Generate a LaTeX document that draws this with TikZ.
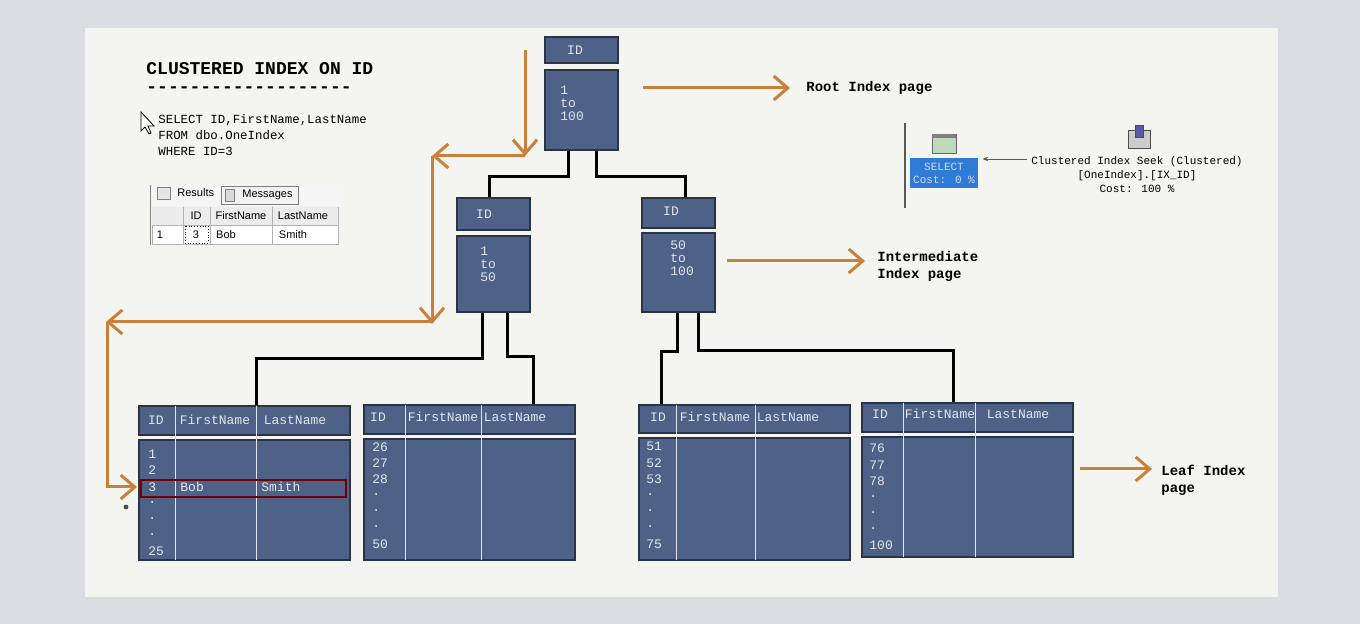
\documentclass[tikz,border=0pt]{standalone}
\usepackage{fontspec}
\setmainfont{Liberation Sans}
\newfontfamily\mono{Liberation Mono}
\usetikzlibrary{positioning, arrows.meta}
\definecolor{pagebg}{HTML}{DCDDE3}
\definecolor{panel}{HTML}{F4F4F0}
\definecolor{slate}{HTML}{4E6187}
\definecolor{slateline}{HTML}{2B3447}
\definecolor{paletxt}{HTML}{E2E6EE}
\definecolor{flowc}{HTML}{C8803A}
\definecolor{selblue}{HTML}{2F7BD6}
\tikzset{
  page/.style={draw=slateline, fill=slate, line width=1.2pt, inner sep=0pt},
  ptxt/.style={font=\mono\fontsize{6.5}{7}\selectfont, text=paletxt, inner sep=0pt},
  col/.style={draw=paletxt, line width=0.4pt},
  link/.style={line width=1.5pt, black},
  flow/.style={line width=1.5pt, flowc, -{Straight Barb[length=7pt,width=12pt,line width=1.5pt]}},
  lbl/.style={font=\mono\bfseries\fontsize{7}{8.5}\selectfont, align=left, anchor=west, inner sep=0pt}
}
\begin{document}
\begin{tikzpicture}[x=0.5pt, y=-0.5pt]
  \fill[pagebg] (0,0) rectangle (1360,624);
  \fill[panel] (85,28) rectangle (1278,597);
  \useasboundingbox (0,0) rectangle (1360,624);

  % title and query
  \node[lbl, font=\mono\bfseries\fontsize{9}{10}\selectfont] (title) at (146,69) {CLUSTERED INDEX ON ID};
  \node[lbl, font=\mono\bfseries\fontsize{9}{10}\selectfont] (dash) at (146,90) {-------------------};
  \node[font=\mono\fontsize{6.2}{8}\selectfont, align=left, anchor=north west, inner sep=0pt] (query) at (158,114)
    {SELECT ID,FirstName,LastName\\FROM dbo.OneIndex\\WHERE ID=3};
  \draw[fill=white, line width=0.4pt] (141,112) -- (141,131) -- (145,127) -- (149,134) -- (151,133) -- (148,126) -- (154,126) -- cycle;

  % results grid
  \fill[white!92!gray] (148,183) rectangle (345,206);
  \draw[gray] (150,185) -- (150,245);
  \draw[gray, fill=gray!20] (157,187) rectangle (170,199);
  \node[anchor=west, font=\fontsize{5.5}{6}\selectfont, inner sep=0pt] (res) at (177,193) {Results};
  \node[draw=gray, fill=white!90!gray, font=\fontsize{5.5}{6}\selectfont, minimum width=38.5pt, minimum height=9pt, inner sep=0pt] (msg) at (259.5,195) {\hspace{8pt}Messages};
  \draw[gray, fill=gray!30] (225,189) rectangle (234,201);
  \fill[white] (152,207) rectangle (338,244);
  \draw[gray!60] (152,207) rectangle (338,244) (152,225) -- (338,225)
    (183,207) -- (183,244) (210,207) -- (210,244) (272,207) -- (272,244);
  \fill[gray!15] (152,207) rectangle (338,225);
  \draw[gray!60] (183,207) -- (183,225) (210,207) -- (210,225) (272,207) -- (272,225);
  \foreach \x/\t in {196/ID, 241/FirstName, 303/LastName}
    \node[font=\fontsize{5.5}{6}\selectfont, inner sep=0pt] at (\x,216) {\t};
  \foreach \x/\t in {160/1, 196/3, 226/Bob, 293/Smith}
    \node[font=\fontsize{5.5}{6}\selectfont, inner sep=0pt] at (\x,235) {\t};
  \draw[densely dotted] (185,226) rectangle (208,243);

  % root page
  \node[page, minimum width=36.5pt, minimum height=13pt] (rootH) at (581.5,50) {};
  \node[ptxt] at (575,50) {ID};
  \node[page, minimum width=36.5pt, minimum height=40pt] (rootB) at (581.5,110) {};
  \node[ptxt, align=left, anchor=north west] at (560,86) {1\\[-0.5pt]to\\[-0.5pt]100};

  % intermediate pages
  \node[page, minimum width=36.5pt, minimum height=16pt] (midLH) at (493.5,214) {};
  \node[ptxt] at (484,214) {ID};
  \node[page, minimum width=36.5pt, minimum height=38pt] (midLB) at (493.5,274) {};
  \node[ptxt, align=left, anchor=north west] at (480,247) {1\\[-0.5pt]to\\[-0.5pt]50};
  \node[page, minimum width=36.5pt, minimum height=15pt] (midRH) at (678.5,213) {};
  \node[ptxt] at (671,211) {ID};
  \node[page, minimum width=36.5pt, minimum height=39.5pt] (midRB) at (678.5,272.5) {};
  \node[ptxt, align=left, anchor=north west] at (670,240) {50\\[-0.5pt]to\\[-0.5pt]100};

  % leaf pages
  \node[page, minimum width=105.5pt, minimum height=14.5pt] (leafAH) at (244.5,420.5) {};
  \node[page, minimum width=105.5pt, minimum height=60pt] (leafAB) at (244.5,500) {};
  \draw[col] (175,406) -- (175,560) (256,406) -- (256,560);
  \foreach \x/\t in {156/ID, 215/FirstName, 295/LastName} \node[ptxt] at (\x,420) {\t};
  \foreach \y/\t in {454/1, 470/2, 487/3, 503/., 519/., 535/., 551/25} \node[ptxt, anchor=west] at (148,\y) {\t};
  \node[ptxt, anchor=west] at (180,487) {Bob};
  \node[ptxt, anchor=west] at (261,487) {Smith};
  \draw[red!45!black, line width=1pt] (141,480) rectangle (346,497);

  \node[page, minimum width=105.5pt, minimum height=14.5pt] (leafBH) at (469.5,419.5) {};
  \node[page, minimum width=105.5pt, minimum height=60.5pt] (leafBB) at (469.5,499.5) {};
  \draw[col] (405,405) -- (405,560) (481,405) -- (481,560);
  \foreach \x/\t in {378/ID, 443/FirstName, 515/LastName} \node[ptxt] at (\x,417) {\t};
  \foreach \y/\t in {447/26, 463/27, 479/28, 495/., 511/., 527/., 544/50} \node[ptxt, anchor=west] at (372,\y) {\t};

  \node[page, minimum width=105.5pt, minimum height=14pt] (leafCH) at (744.5,419) {};
  \node[page, minimum width=105.5pt, minimum height=61pt] (leafCB) at (744.5,499) {};
  \draw[col] (676,405) -- (676,560) (755,405) -- (755,560);
  \foreach \x/\t in {658/ID, 715/FirstName, 788/LastName} \node[ptxt] at (\x,417) {\t};
  \foreach \y/\t in {446/51, 463/52, 479/53, 495/., 511/., 527/., 544/75} \node[ptxt, anchor=west] at (646,\y) {\t};

  \node[page, minimum width=105.5pt, minimum height=14.5pt] (leafDH) at (967.5,417.5) {};
  \node[page, minimum width=105.5pt, minimum height=60pt] (leafDB) at (967.5,497) {};
  \draw[col] (903,403) -- (903,557) (975,403) -- (975,557);
  \foreach \x/\t in {880/ID, 940/FirstName, 1018/LastName} \node[ptxt] at (\x,414) {\t};
  \foreach \y/\t in {448/76, 465/77, 481/78, 497/., 513/., 529/., 545/100} \node[ptxt, anchor=west] at (869,\y) {\t};

  % page links
  \draw[link] ([xshift=-6.75pt]rootB.south) -- ++(0,25) -| ([xshift=-2pt]midLH.north);
  \draw[link] ([xshift=7.25pt]rootB.south) -- ++(0,25) -| ([xshift=3.25pt]midRH.north);
  \draw[link] ([xshift=-5.75pt]midLB.south) -- ++(0,45) -| ([xshift=5.75pt]leafAH.north);
  \draw[link] ([xshift=6.75pt]midLB.south) -- ++(0,43) -| ([xshift=31.75pt]leafBH.north);
  \draw[link] ([xshift=-0.75pt]midRB.south) -- ++(0,38) -| ([xshift=-41.75pt]leafCH.north);
  \draw[link] ([xshift=9.75pt]midRB.south) -- ++(0,37) -| ([xshift=-7.25pt]leafDH.north);

  % search path
  \coordinate (s0) at (525,50);
  \coordinate (s1) at (525,156);
  \coordinate (s2) at (432,156);
  \coordinate (s3) at (432,324);
  \coordinate (s4) at (106,322);
  \coordinate (s5) at (137,487);
  \draw[flow] (s0) -- (s1);
  \draw[flow] (s1) -- (s2);
  \draw[flow] (s2) -- (s3);
  \draw[flow] (432,322) -- (s4);
  \draw[flow] (107,322) |- (s5);
  \fill[black!70] (126,507) circle (1.2pt);

  % level labels
  \node[lbl] (rootL) at (806,88) {Root Index page};
  \node[lbl] (midL) at (877,266) {Intermediate\\Index page};
  \node[lbl] (leafL) at (1161,480) {Leaf Index\\page};
  \draw[flow] ([xshift=-81.5pt]rootL.west) -- ([xshift=-8pt]rootL.west);
  \draw[flow] ([xshift=-75pt]midL.north west |- 0,261) -- (865,261);
  \draw[flow] (1080,469) -- (1152,469);

  % execution plan
  \draw[gray!70!black, line width=0.6pt] (905,123) -- (905,208);
  \draw[black!60, fill=green!25!gray!40] (932,134) rectangle (956,153);
  \fill[black!50] (932,134) rectangle (956,138);
  \node[fill=selblue, text=white!85!blue, font=\mono\fontsize{5.5}{6.5}\selectfont, align=center, minimum width=34pt, minimum height=15pt, inner sep=0pt] (sel) at (944,173) {SELECT\\Cost: 0 \%};
  \node[font=\mono\fontsize{5.5}{7}\selectfont, align=center, inner sep=0pt] (seek) at (1137,175)
    {Clustered Index Seek (Clustered)\\{}[OneIndex].[IX\_ID]\\Cost: 100 \%};
  \draw[gray!70!black, -{Stealth[length=3pt]}] (seek.north west |- 0,159) ++(-4,0) -- ([xshift=2pt]sel.east |- 0,159);
  \draw[black!70, fill=gray!40] (1128,130) rectangle (1150,148);
  \draw[black!70, fill=blue!30!gray] (1135,125) rectangle (1143,137);
\end{tikzpicture}
\end{document}
